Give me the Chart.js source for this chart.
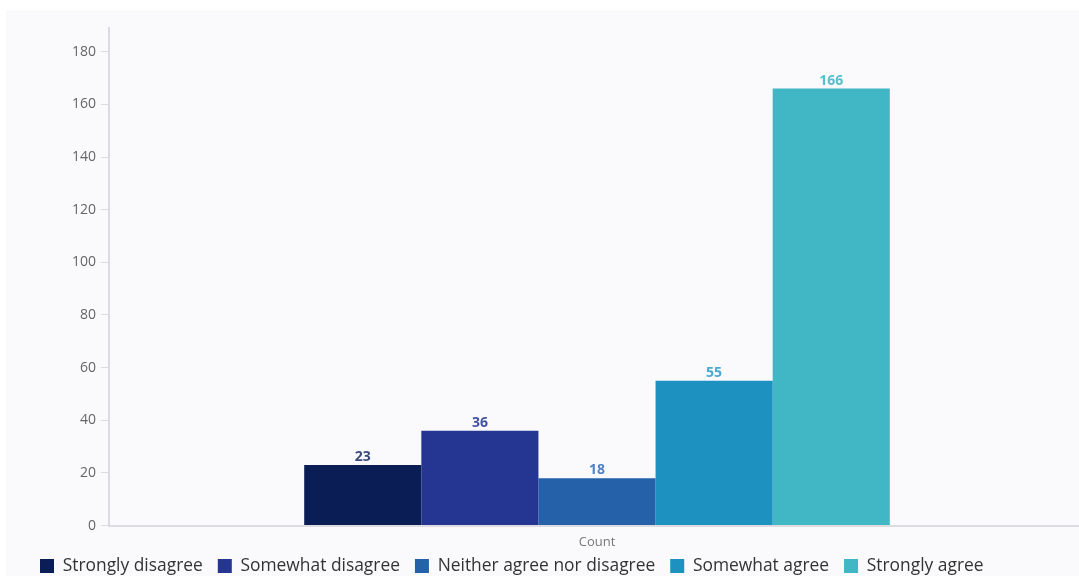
<!DOCTYPE html>
<html>
<head>
<meta charset="utf-8">
<script src="https://cdn.jsdelivr.net/npm/chart.js@4.4.1/dist/chart.umd.min.js"></script>
<style>
    html, body { margin: 0; padding: 0; background: #ffffff; overflow: hidden; }
    #panel {
        position: absolute;
        left: 6px;
        top: 10px;
        width: 1079px;
        height: 566px;
        background: #fafafc;
    }
</style>
</head>
<body>
<div id="panel"><canvas id="countChart"></canvas></div>
<script>
// Kategori ve seriler
const categories = ['Count'];
const seriesNames = ['Strongly disagree', 'Somewhat disagree', 'Neither agree nor disagree', 'Somewhat agree', 'Strongly agree'];
const seriesValues = [23, 36, 18, 55, 166];
const yTicks = [0, 20, 40, 60, 80, 100, 120, 140, 160, 180];

// Renkler
const barColors = ['#0a1d55', '#243592', '#2461a8', '#1d91c0', '#41b6c4'];
const labelColors = ['#3b4a7c', '#4352a3', '#4f82c6', '#4aa9d2', '#55c1cc'];

const fontFamily = '"Open Sans", "Noto Sans", sans-serif';

// Çubukların üstüne değer yaz
const valueLabels = {
    id: 'valueLabels',
    afterDatasetsDraw(chart) {
        const ctx = chart.ctx;
        ctx.save();
        ctx.font = 'bold 14px ' + fontFamily;
        ctx.textAlign = 'center';
        ctx.textBaseline = 'bottom';
        chart.data.datasets.forEach((ds, i) => {
            const meta = chart.getDatasetMeta(i);
            meta.data.forEach((bar, j) => {
                ctx.fillStyle = labelColors[i];
                ctx.fillText(ds.data[j], bar.x, bar.y - 1);
            });
        });
        ctx.restore();
    }
};

// Lejantı eksen etiketine biraz yaklaştır
const legendShift = {
    id: 'legendShift',
    afterLayout(chart) {
        const lg = chart.legend;
        if (!lg) return;
        lg.top -= 9;
        lg.bottom -= 9;
    }
};

let countChart;

document.addEventListener('DOMContentLoaded', () => {
    const ctx = document.getElementById('countChart').getContext('2d');
    countChart = new Chart(ctx, {
        type: 'bar',
        data: {
            labels: categories,
            datasets: seriesNames.map((name, i) => ({
                label: name,
                data: [seriesValues[i]],
                backgroundColor: barColors[i],
                borderWidth: 0,
                barPercentage: 1,
                categoryPercentage: 0.6
            }))
        },
        plugins: [valueLabels, legendShift],
        options: {
            responsive: true,
            maintainAspectRatio: false,
            animation: false,
            layout: {
                padding: { left: 19, right: 0, top: 18, bottom: -17.6 }
            },
            plugins: {
                tooltip: { enabled: false },
                legend: {
                    position: 'bottom',
                    align: 'start',
                    labels: {
                        boxWidth: 14,
                        boxHeight: 14,
                        padding: 15,
                        color: '#333333',
                        font: { family: fontFamily, size: 17.4 }
                    }
                }
            },
            scales: {
                x: {
                    grid: { display: false, tickLength: 8 },
                    border: { color: '#dcdce0', width: 2 },
                    ticks: {
                        color: '#777777',
                        padding: 1,
                        font: { family: fontFamily, size: 13 }
                    }
                },
                y: {
                    min: 0,
                    max: 189,
                    afterBuildTicks: scale => {
                        scale.ticks = yTicks.map(v => ({ value: v }));
                    },
                    afterFit: scale => { scale.width = 84; },
                    grid: {
                        drawOnChartArea: false,
                        drawTicks: true,
                        tickLength: 8,
                        color: '#dcdce0'
                    },
                    border: { color: '#dcdce0', width: 2 },
                    ticks: {
                        color: '#666666',
                        padding: 5,
                        font: { family: fontFamily, size: 14 }
                    }
                }
            }
        }
    });
});
</script>
</body>
</html>
